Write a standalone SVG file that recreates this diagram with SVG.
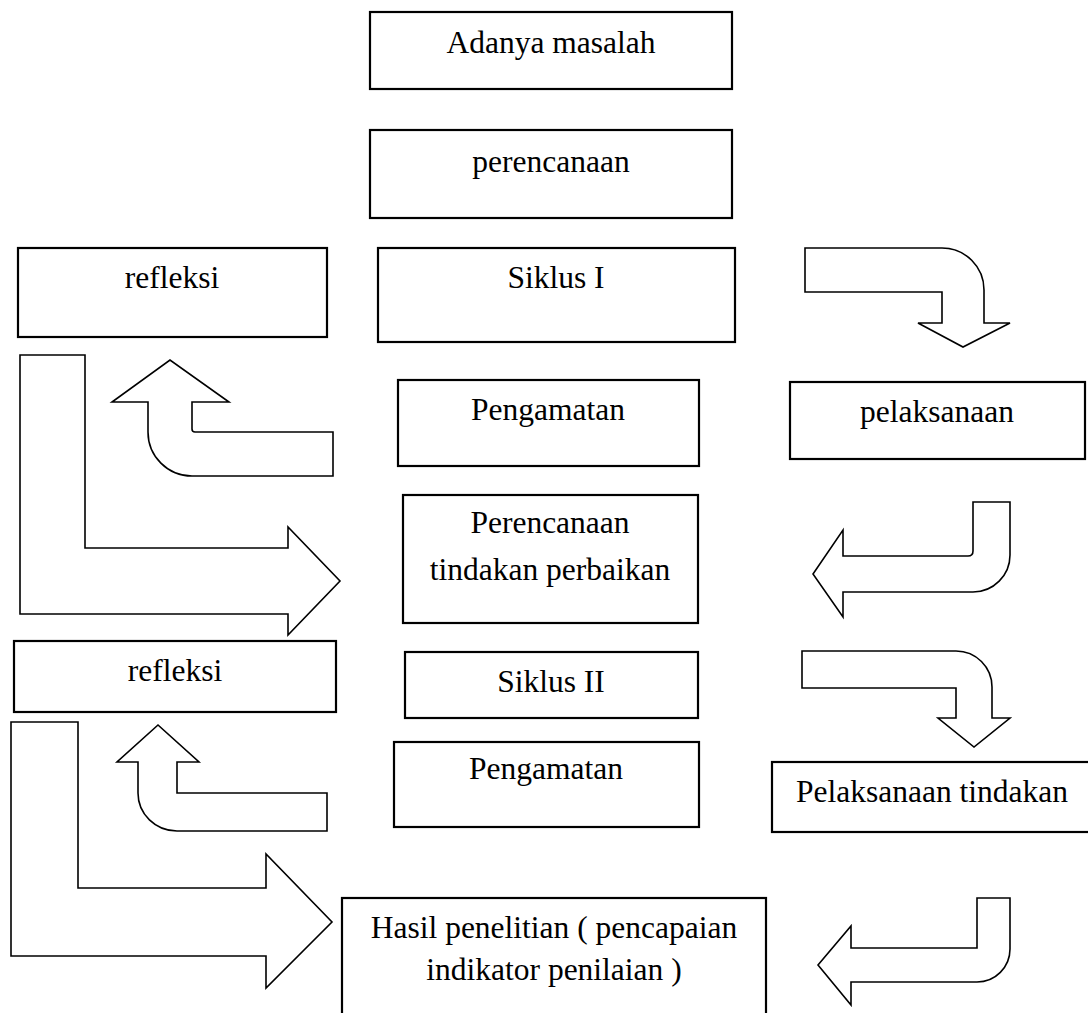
<svg xmlns="http://www.w3.org/2000/svg" width="1088" height="1013" viewBox="0 0 1088 1013">
<style>
.box{fill:#fff;stroke:#000;stroke-width:2.2}
.arr{fill:#fff;stroke:#000;stroke-width:1.6;stroke-linejoin:miter}
.t{font-family:"Liberation Serif","Times New Roman",serif;font-size:31.5px;fill:#000;text-anchor:middle}
</style>
<rect width="1088" height="1013" fill="#fff"/>
<g id="connectors">
<path class="arr" d="M805,248 H942 A42,42 0 0 1 984,290 V323 H1010 L963,347 L918,323 H942 V292 H805 Z"/>
<path class="arr" d="M333,432 H195 Q192,432 192,429 V402 H229 L170,360 L112,402 H148 V432 A44,44 0 0 0 192,476 H333 Z"/>
<path class="arr" d="M20,355 H85 V548 H288 V527 L340,581 L288,635 V614 H20 Z"/>
<path class="arr" d="M973,502 H1010 V555 A37,37 0 0 1 973,592 H843 V617 L813,574 L843,530 V556 H968 Q973,556 973,551 Z"/>
<path class="arr" d="M802,651 H956 A36,36 0 0 1 992,687 V718 H1010 L974,747 L938,718 H956 V688 H802 Z"/>
<path class="arr" d="M327,793 H177 V762 H199 L158,725 L117,762 H138 V793 A39,38 0 0 0 177,831 H327 Z"/>
<path class="arr" d="M11,722 H78 V888 H266 V854 L332,922 L266,988 V956 H11 Z"/>
<path class="arr" d="M977,898 H1010 V949 A33,33 0 0 1 977,982 H851 V1005 L818,965 L851,926 V948 H977 Z"/>
</g>
<g id="n-adanya"><rect class="box" x="370" y="12" width="362" height="77"/><text class="t" x="551" y="53">Adanya masalah</text></g>
<g id="n-perencanaan"><rect class="box" x="370" y="130" width="362" height="88"/><text class="t" x="551" y="172">perencanaan</text></g>
<g id="n-refleksi1"><rect class="box" x="18" y="248" width="309" height="89"/><text class="t" x="172" y="288">refleksi</text></g>
<g id="n-siklus1"><rect class="box" x="378" y="248" width="357" height="94"/><text class="t" x="556" y="288">Siklus I</text></g>
<g id="n-pengamatan1"><rect class="box" x="398" y="380" width="301" height="86"/><text class="t" x="548" y="420">Pengamatan</text></g>
<g id="n-pelaksanaan"><rect class="box" x="790" y="382" width="295" height="77"/><text class="t" x="937" y="422">pelaksanaan</text></g>
<g id="n-perbaikan"><rect class="box" x="403" y="495" width="295" height="128"/><text class="t" x="550" y="533">Perencanaan</text><text class="t" x="550" y="580">tindakan perbaikan</text></g>
<g id="n-refleksi2"><rect class="box" x="14" y="641" width="322" height="71"/><text class="t" x="175" y="681">refleksi</text></g>
<g id="n-siklus2"><rect class="box" x="405" y="652" width="293" height="66"/><text class="t" x="551" y="692">Siklus II</text></g>
<g id="n-pengamatan2"><rect class="box" x="394" y="742" width="305" height="85"/><text class="t" x="546" y="779">Pengamatan</text></g>
<g id="n-pelaksanaan-tindakan"><rect class="box" x="772" y="762" width="330" height="70"/><text class="t" x="932" y="802">Pelaksanaan tindakan</text></g>
<g id="n-hasil"><rect class="box" x="342" y="898" width="424" height="130"/><text class="t" x="554" y="938">Hasil penelitian ( pencapaian</text><text class="t" x="554" y="980">indikator penilaian )</text></g>
</svg>
